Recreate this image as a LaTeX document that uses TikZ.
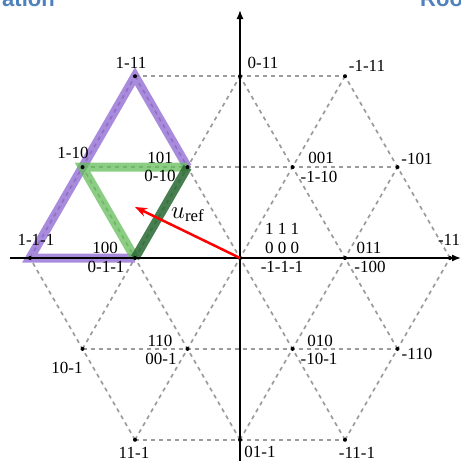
\documentclass[tikz,border=0pt]{standalone}
\usepackage{fontspec}
\setmainfont{Liberation Serif}
\newfontfamily\titlefont{Liberation Sans}
\usetikzlibrary{arrows.meta}
\definecolor{titleblue}{RGB}{79,129,189}
\definecolor{vpurple}{RGB}{140,100,210}
\definecolor{vgreen}{RGB}{100,190,90}
\definecolor{vdark}{RGB}{40,105,50}
\definecolor{lattice}{RGB}{155,155,155}
\begin{document}
\begin{tikzpicture}[x=1pt,y=-1pt,
  lbl/.style={font=\fontsize{17}{20}\selectfont, inner sep=0pt},
  gridline/.style={draw=lattice, line width=1.7pt, dash pattern=on 4pt off 4pt},
  dotp/.style={circle, fill=black, inner sep=0pt, minimum size=4pt},
  axisline/.style={line width=1.4pt, -{Latex[length=9pt,width=7pt]}},
  thickv/.style={line width=9pt, line join=miter, opacity=0.75},
  titletext/.style={font=\titlefont\bfseries\fontsize{22}{24}\selectfont, text=titleblue, inner sep=0pt}]
\useasboundingbox (0,0) rectangle (461,461);
% lattice points
\foreach \a/\b in {2/0,3/0,4/0,1/1,2/1,3/1,4/1,0/2,1/2,2/2,3/2,4/2,0/3,1/3,2/3,3/3,0/4,1/4,2/4}
  \coordinate (P\a\b) at ({240+105*((\a-2)+(\b-2)/2)}, {258-90.9*(\b-2)});
% dashed lattice
\draw[gridline] (P20)--(P40) (P11)--(P41) (P02)--(P42) (P03)--(P33) (P04)--(P24);
\draw[gridline] (P02)--(P04) (P11)--(P14) (P20)--(P24) (P30)--(P33) (P40)--(P42);
\draw[gridline] (P20)--(P02) (P30)--(P03) (P40)--(P04) (P41)--(P14) (P42)--(P24);
% highlighted sectors
\draw[thickv, draw=vpurple] (P13) -- (P04) -- (P02) -- (P12);
\draw[thickv, draw=vgreen] (P12) -- (P03) -- (P13);
\draw[thickv, draw=vdark, opacity=0.85] (P13) -- (P12);
% axes
\coordinate (axL) at (10,258);
\coordinate (axR) at (461,258);
\coordinate (axB) at (240,461);
\coordinate (axT) at (240,10);
\draw[axisline] (axL) -- (axR);
\draw[axisline] (axB) -- (axT);
% dots
\foreach \p in {20,30,40,11,21,31,41,02,12,22,32,42,03,13,23,33,04,14,24}
  \node[dotp] (d\p) at (P\p) {};
% reference vector
\coordinate (uref) at (135,207);
\draw[red, line width=2.5pt, -{Stealth[length=12pt,width=9pt]}] (P22) -- (uref);
\node[font=\fontsize{24}{26}\selectfont, inner sep=0pt, anchor=base west] (ul) at (171,218) {$u_{\mathrm{ref}}$};
% labels
\node[lbl] (l04) at ([shift={(-4,-13)}]P04) {1-11};
\node[lbl] (l14) at ([shift={(23,-13)}]P14) {0-11};
\node[lbl] (l24) at ([shift={(22,-10)}]P24) {-1-11};
\node[lbl] (l03) at ([shift={(-9.5,-14)}]P03) {1-10};
\node[lbl] (l13a) at ([shift={(-27.5,-9)}]P13) {101};
\node[lbl] (l13b) at ([shift={(-27.5,9)}]P13) {0-10};
\node[lbl] (l23a) at ([shift={(28.5,-9)}]P23) {001};
\node[lbl] (l23b) at ([shift={(26.5,10)}]P23) {-1-10};
\node[lbl] (l33) at ([shift={(19.5,-8)}]P33) {-101};
\node[lbl] (l02) at ([shift={(6,-18)}]P02) {1-1-1};
\node[lbl] (l12a) at ([shift={(-30,-10)}]P12) {100};
\node[lbl] (l12b) at ([shift={(-29,9)}]P12) {0-1-1};
\node[lbl] (l22a) at ([shift={(42,-29)}]P22) {1 1 1};
\node[lbl] (l22b) at ([shift={(42,-10)}]P22) {0 0 0};
\node[lbl] (l22c) at ([shift={(42,9)}]P22) {-1-1-1};
\node[lbl] (l32a) at ([shift={(24,-10)}]P32) {011};
\node[lbl] (l32b) at ([shift={(25,9)}]P32) {-100};
\node[lbl] (l42) at ([shift={(3,-18)}]P42) {-111};
\node[lbl] (l21a) at ([shift={(-27.5,-8)}]P21) {110};
\node[lbl] (l21b) at ([shift={(-26.5,10)}]P21) {00-1};
\node[lbl] (l11) at ([shift={(-15.5,19)}]P11) {10-1};
\node[lbl] (l20) at ([shift={(-1,13)}]P20) {11-1};
\node[lbl] (l31a) at ([shift={(27.5,-8)}]P31) {010};
\node[lbl] (l31b) at ([shift={(26.5,10)}]P31) {-10-1};
\node[lbl] (l41) at ([shift={(19.5,5)}]P41) {-110};
\node[lbl] (l30) at ([shift={(20,12)}]P30) {01-1};
\node[lbl] (l40) at ([shift={(12,13.5)}]P40) {-11-1};
% cropped title fragments
\node[titletext, anchor=base east] (t1) at (55,6) {ation};
\node[titletext, anchor=base west] (t2) at (420,6) {Roo};
\end{tikzpicture}
\end{document}
